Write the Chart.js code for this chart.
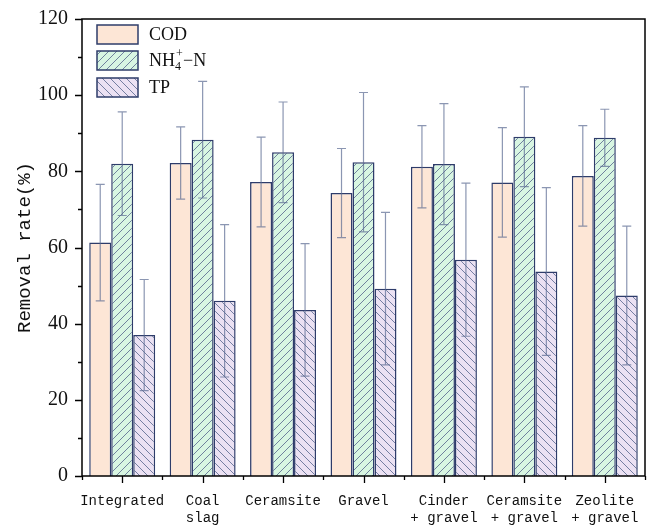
<!DOCTYPE html>
<html>
<head>
<meta charset="utf-8">
<script src="https://cdn.jsdelivr.net/npm/chart.js@4/dist/chart.umd.min.js"></script>
<style>
  body { margin: 0; background: #fff; }
  #wrap { width: 648px; height: 527px; }
</style>
</head>
<body>
<div id="wrap"><canvas id="chart" width="648" height="527"></canvas></div>
<script>
// categories and values
var categories = [["Integrated"], ["Coal", "slag"], ["Ceramsite"], ["Gravel"],
                  ["Cinder", "+ gravel"], ["Ceramsite", "+ gravel"], ["Zeolite", "+ gravel"]];
var codValues = [61.3, 82.2, 77.2, 74.3, 81.2, 77.1, 78.8];
var codErrors = [15.3, 9.5, 11.8, 11.7, 10.8, 14.4, 13.2];
var nh4Values = [82.0, 88.3, 85.0, 82.4, 81.9, 89.1, 88.8];
var nh4Errors = [13.6, 15.3, 13.2, 18.3, 15.9, 13.1, 7.5];
var tpValues = [37.0, 46.0, 43.6, 49.2, 56.8, 53.7, 47.4];
var tpErrors = [14.6, 20.0, 17.4, 20.0, 20.1, 22.0, 18.2];
var yTicks = [0, 20, 40, 60, 80, 100, 120];

var NAVY = "#2e3c6a";
var ERR = "rgba(90,106,145,0.7)";

function hatch(bg, dir) {
  var c = document.createElement("canvas");
  c.width = 8; c.height = 8;
  var g = c.getContext("2d");
  g.fillStyle = bg;
  g.fillRect(0, 0, 8, 8);
  g.strokeStyle = "#56648c";
  g.lineWidth = 0.8;
  g.beginPath();
  if (dir === "/") {
    g.moveTo(0, 8); g.lineTo(8, 0);
    g.moveTo(-2, 2); g.lineTo(2, -2);
    g.moveTo(6, 10); g.lineTo(10, 6);
  } else {
    g.moveTo(0, 0); g.lineTo(8, 8);
    g.moveTo(-2, 6); g.lineTo(2, 10);
    g.moveTo(6, -2); g.lineTo(10, 2);
  }
  g.stroke();
  return g.createPattern(c, "repeat");
}

var codFill = "#fde6d6";
var nh4Fill = hatch("#d8f6e2", "/");
var tpFill = hatch("#ebe1f3", "\\");

var errorLists = [codErrors, nh4Errors, tpErrors];

var errorBars = {
  id: "errorBars",
  afterDatasetsDraw: function(chart) {
    var ctx = chart.ctx, y = chart.scales.y;
    ctx.save();
    ctx.strokeStyle = ERR;
    ctx.lineWidth = 1.2;
    chart.data.datasets.forEach(function(ds, i) {
      var meta = chart.getDatasetMeta(i);
      meta.data.forEach(function(bar, j) {
        var v = ds.data[j], e = errorLists[i][j];
        var top = y.getPixelForValue(v + e), bot = y.getPixelForValue(v - e);
        ctx.beginPath();
        ctx.moveTo(bar.x, top); ctx.lineTo(bar.x, bot);
        ctx.moveTo(bar.x - 4.5, top); ctx.lineTo(bar.x + 4.5, top);
        ctx.moveTo(bar.x - 4.5, bot); ctx.lineTo(bar.x + 4.5, bot);
        ctx.stroke();
      });
    });
    ctx.restore();
  }
};

var frame = {
  id: "frame",
  afterDraw: function(chart) {
    var ctx = chart.ctx, a = chart.chartArea, x = chart.scales.x, y = chart.scales.y;
    ctx.save();
    ctx.strokeStyle = "#000";
    ctx.lineWidth = 1.5;
    ctx.strokeRect(a.left, a.top, a.right - a.left, a.bottom - a.top);
    ctx.lineWidth = 1.3;
    ctx.beginPath();
    // y ticks, majors every 20, minors every 10
    for (var v = 0; v <= 120; v += 10) {
      var py = Math.round(y.getPixelForValue(v)) + 0.5;
      var len = (v % 20 === 0) ? 7 : 4;
      ctx.moveTo(a.left - len, py); ctx.lineTo(a.left, py);
    }
    // x ticks: majors at centres, minors at category boundaries
    var n = categories.length;
    for (var i = 0; i < n; i++) {
      var cx = Math.round(x.getPixelForValue(i)) + 0.5;
      ctx.moveTo(cx, a.bottom); ctx.lineTo(cx, a.bottom + 7);
    }
    for (var k = 0; k <= n; k++) {
      var bx = Math.round(x.getPixelForValue(k - 0.5)) + 0.5;
      ctx.moveTo(bx, a.bottom); ctx.lineTo(bx, a.bottom + 4);
    }
    ctx.stroke();

    // legend
    var items = [codFill, nh4Fill, tpFill];
    var tops = [25, 51, 78];
    ctx.lineWidth = 1.5;
    ctx.strokeStyle = NAVY;
    items.forEach(function(f, i) {
      ctx.fillStyle = f;
      ctx.fillRect(97, tops[i], 41, 19);
      ctx.strokeRect(97, tops[i], 41, 19);
    });
    ctx.fillStyle = "#111";
    ctx.textBaseline = "middle";
    ctx.textAlign = "left";
    ctx.font = "18px 'Liberation Serif'";
    ctx.fillText("COD", 149, 35);
    ctx.fillText("NH", 149, 61);
    var w = ctx.measureText("NH").width;
    ctx.font = "12px 'Liberation Serif'";
    ctx.fillText("4", 149 + w, 67);
    ctx.fillText("+", 149 + w + 1, 54);
    ctx.font = "18px 'Liberation Serif'";
    ctx.fillText("\u2212N", 149 + w + 8, 61);
    ctx.fillText("TP", 149, 88);
    ctx.restore();
  }
};

var ctx = document.getElementById("chart").getContext("2d");
new Chart(ctx, {
  type: "bar",
  data: {
    labels: categories,
    datasets: [
      { label: "COD", data: codValues, backgroundColor: codFill, borderColor: NAVY, borderWidth: 1.5 },
      { label: "NH4+-N", data: nh4Values, backgroundColor: nh4Fill, borderColor: NAVY, borderWidth: 1.5 },
      { label: "TP", data: tpValues, backgroundColor: tpFill, borderColor: NAVY, borderWidth: 1.5 }
    ]
  },
  options: {
    responsive: false,
    animation: false,
    layout: { padding: { top: 19, right: 3, left: 12, bottom: 0 } },
    datasets: { bar: { categoryPercentage: 0.82, barPercentage: 1.0 } },
    plugins: { legend: { display: false }, tooltip: { enabled: false } },
    scales: {
      x: {
        grid: { display: false },
        border: { display: false },
        ticks: { color: "#111", padding: 9, font: { family: "'Liberation Mono'", size: 14, lineHeight: 1.2 }, maxRotation: 0, autoSkip: false },
        afterFit: function(s) { s.height = 51; }
      },
      y: {
        min: 0, max: 120,
        afterBuildTicks: function(s) { s.ticks = yTicks.map(function(v) { return { value: v }; }); },
        grid: { display: false },
        border: { display: false },
        ticks: { color: "#111", padding: 6, font: { family: "'Liberation Serif'", size: 20 } },
        title: { display: true, text: "Removal rate(%)", color: "#111", padding: 2, font: { family: "'Liberation Mono'", size: 19 } },
        afterFit: function(s) { s.width = 70; }
      }
    }
  },
  plugins: [errorBars, frame]
});
</script>
</body>
</html>
